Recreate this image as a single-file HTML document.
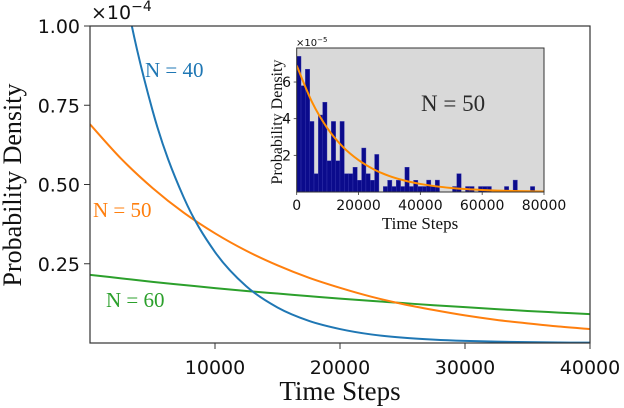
<!DOCTYPE html>
<html><head><meta charset="utf-8">
<style>
html,body{margin:0;padding:0;background:#fff;}
svg{display:block;}
.tk{font-family:"DejaVu Sans","Liberation Sans",sans-serif;fill:#111;}
.sf{font-family:"Liberation Serif","DejaVu Serif",serif;}
</style></head>
<body>
<svg id="chart" width="624" height="408" viewBox="0 0 624 408" xmlns="http://www.w3.org/2000/svg">
<defs>
<clipPath id="mainClip"><rect x="90" y="26" width="500" height="317"/></clipPath>
<clipPath id="insetClip"><rect x="296.7" y="48" width="247.3" height="144"/></clipPath>
</defs>
<g id="main"></g>
<g id="inset"></g>
</svg>
<script>
// ---- main chart data ----
const mainTimes = [0,2500,5000,7500,10000,12500,15000,17500,20000,22500,25000,27500,30000,32500,35000,37500,40000];
const densN40 = [1.88,1.175,0.734,0.459,0.287,0.179,0.112,0.070,0.044,0.027,0.017,0.0107,0.0067,0.0042,0.0026,0.0016,0.001];
const densN50 = [0.690,0.581,0.489,0.411,0.346,0.291,0.245,0.206,0.174,0.146,0.123,0.104,0.087,0.073,0.062,0.052,0.044];
const densN60 = [0.215,0.204,0.193,0.183,0.173,0.164,0.156,0.148,0.140,0.133,0.126,0.119,0.113,0.107,0.101,0.096,0.091];
const mainXTicks = [10000,20000,30000,40000];
const mainYTicks = [0.25,0.50,0.75,1.00];
const mainYTickLabels = ["0.25","0.50","0.75","1.00"];
// ---- inset data ----
const binWidth = 1400;
const histValues = [7.4,5.8,6.7,3.85,1.0,4.2,4.9,1.7,3.85,1.7,3.85,1.0,1.0,1.35,0.64,2.4,1.0,0.64,2.05,0,0.3,0.64,0.3,0.64,0.3,1.35,0.3,0.64,0.3,0.3,0.65,0.3,0.65,0,0,0,0.3,1.0,0,0.3,0.3,0,0.3,0.3,0.3,0,0,0,0.3,0,0.65,0,0,0,0.3,0];
const insetTimes = [0,5000,10000,15000,20000,25000,30000,35000,40000,45000,50000,55000,60000,65000,70000,75000,80000];
const insetFit = [6.9,4.89,3.46,2.45,1.74,1.23,0.87,0.62,0.44,0.31,0.22,0.155,0.11,0.078,0.055,0.039,0.028];
const insetXTicks = [0,20000,40000,60000,80000];
const insetYTicks = [2,4,6];

const NS="http://www.w3.org/2000/svg";
function mk(tag,attrs,parent,text){const e=document.createElementNS(NS,tag);for(const k in attrs)e.setAttribute(k,attrs[k]);if(text!==undefined)e.textContent=text;parent.appendChild(e);return e;}
function spline(pts){let d="M"+pts[0][0]+","+pts[0][1];for(let i=0;i<pts.length-1;i++){const p0=pts[Math.max(0,i-1)],p1=pts[i],p2=pts[i+1],p3=pts[Math.min(pts.length-1,i+2)];const c1=[p1[0]+(p2[0]-p0[0])/6,p1[1]+(p2[1]-p0[1])/6];const c2=[p2[0]-(p3[0]-p1[0])/6,p2[1]-(p3[1]-p1[1])/6];d+=" C"+c1[0]+","+c1[1]+" "+c2[0]+","+c2[1]+" "+p2[0]+","+p2[1];}return d;}

// main axes
const mx=v=>90+v/40000*500;
const my=v=>343-v*317;
const gm=document.getElementById('main');
const series=[[densN60,'#2ca02c','curve-n60'],[densN50,'#ff7f0e','curve-n50'],[densN40,'#1f77b4','curve-n40']];
const cg=mk('g',{'clip-path':'url(#mainClip)'},gm);
series.forEach(s=>{
  const p=mk('path',{d:spline(mainTimes.map((t,i)=>[mx(t),my(s[0][i])])),fill:'none',stroke:s[1],'stroke-width':2},cg);
  
  
});
const frame=mk('rect',{x:90,y:26,width:500,height:317,fill:'none',stroke:'#333','stroke-width':1.2},gm);


mainXTicks.forEach(t=>{
  mk('line',{x1:mx(t),x2:mx(t),y1:343,y2:349,stroke:'#333','stroke-width':1},gm);
  const l=mk('text',{x:mx(t),y:374,'text-anchor':'middle','font-size':19,class:'tk'},gm,String(t));
  
  
});
mainYTicks.forEach((t,i)=>{
  mk('line',{x1:84,x2:90,y1:my(t),y2:my(t),stroke:'#333','stroke-width':1},gm);
  const l=mk('text',{x:80,y:my(t)+7,'text-anchor':'end','font-size':19,class:'tk'},gm,mainYTickLabels[i]);
  
  
});
</script>
<script>
// static labels main
(function(){
const gm=document.getElementById('main');
function t(x,y,s,attrs,name,html){const e=document.createElementNS("http://www.w3.org/2000/svg",'text');e.setAttribute('x',x);e.setAttribute('y',y);for(const k in attrs)e.setAttribute(k,attrs[k]);if(html)e.innerHTML=s;else e.textContent=s;gm.appendChild(e);return e;}
t(91,19,'×10<tspan dy="-8" font-size="14">−4</tspan>',{class:'tk','font-size':19},'y-axis-multiplier',true);
t(340,400,'Time Steps',{class:'sf','font-size':27,'text-anchor':'middle',fill:'#111'},'x-axis-title');
t(0,0,'Probability Density',{class:'sf','font-size':26,'text-anchor':'middle',fill:'#111',transform:'translate(21,185) rotate(-90)'},'y-axis-title');
t(145,77,'N = 40',{class:'sf','font-size':21,fill:'#1f77b4'},'label-n40');
t(93,217,'N = 50',{class:'sf','font-size':21,fill:'#ff7f0e'},'label-n50');
t(106,307,'N = 60',{class:'sf','font-size':21,fill:'#2ca02c'},'label-n60');
})();
</script>
<script>
// inset
const ix=v=>296.7+v/80000*247.3;
const iy=v=>192-v*18.33;
const gi=document.getElementById('inset');
mk('rect',{x:296.7,y:48,width:247.3,height:144,fill:'#d9d9d9'},gi);
const bg=mk('g',{'clip-path':'url(#insetClip)'},gi);
histValues.forEach((v,i)=>{
  if(v<=0)return;
  const r=mk('rect',{x:ix(i*binWidth),y:iy(v),width:ix(binWidth)-ix(0),height:iy(0)-iy(v),fill:'#0b0b8c',stroke:'#3a3ab0','stroke-width':0.4},bg);
  
  
});
const fit=mk('path',{d:spline(insetTimes.map((t,i)=>[ix(t),iy(insetFit[i])])),fill:'none',stroke:'#ff8c00','stroke-width':2},bg);


const ifr=mk('rect',{x:296.7,y:48,width:247.3,height:144,fill:'none',stroke:'#333','stroke-width':1},gi);


insetXTicks.forEach(t=>{
  mk('line',{x1:ix(t),x2:ix(t),y1:192,y2:195,stroke:'#333','stroke-width':0.8},gi);
  const l=mk('text',{x:ix(t),y:210,'text-anchor':'middle','font-size':14,class:'tk'},gi,String(t));
  
  
});
insetYTicks.forEach(t=>{
  mk('line',{x1:293.7,x2:296.7,y1:iy(t),y2:iy(t),stroke:'#333','stroke-width':0.8},gi);
  const l=mk('text',{x:291,y:iy(t)+5,'text-anchor':'end','font-size':14,class:'tk'},gi,String(t));
  
  
});
(function(){
function t(x,y,s,attrs,name,html){const e=document.createElementNS(NS,'text');e.setAttribute('x',x);e.setAttribute('y',y);for(const k in attrs)e.setAttribute(k,attrs[k]);if(html)e.innerHTML=s;else e.textContent=s;gi.appendChild(e);return e;}
t(296,46,'×10<tspan dy="-4" font-size="7">−5</tspan>',{class:'tk','font-size':10},'inset-y-multiplier',true);
t(420,229,'Time Steps',{class:'sf','font-size':17,'text-anchor':'middle',fill:'#111'},'inset-x-axis-title');
t(0,0,'Probability Density',{class:'sf','font-size':16,'text-anchor':'middle',fill:'#111',transform:'translate(282,122) rotate(-90)'},'inset-y-axis-title');
t(421,111,'N = 50',{class:'sf','font-size':23,fill:'#2a2a2a'},'inset-label-n50');
})();
</script>
</body></html>
